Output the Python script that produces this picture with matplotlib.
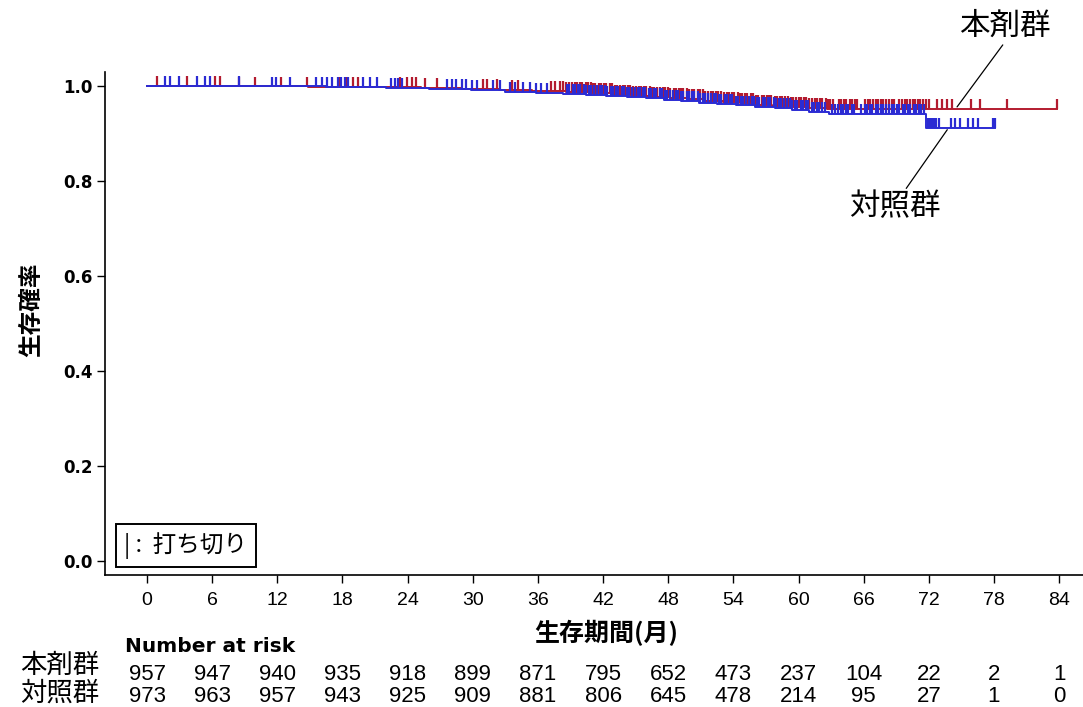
import matplotlib
matplotlib.use('Agg')
import matplotlib.pyplot as plt
import matplotlib.transforms as mtransforms
import numpy as np

plt.rcParams['font.family'] = ['DejaVu Sans', 'Noto Sans CJK JP']
plt.rcParams['axes.unicode_minus'] = False
JP = ['Noto Sans CJK JP', 'DejaVu Sans']
NUM = ['Liberation Sans', 'DejaVu Sans']

# 群名
groups = ['本剤群', '対照群']
colors = ['#b31b2f', '#2b2bd3']

# 生存曲線（イベント時点と生存率）
red_t = [0, 7.0, 14.8, 20.5, 25.2, 29.0, 32.4, 35.5, 38.6, 41.0, 43.0, 44.8, 46.5,
         48.2, 49.8, 51.4, 53.0, 54.6, 56.1, 57.6, 59.3, 61.0, 62.6]
red_s = [1.000, 0.999, 0.998, 0.997, 0.995, 0.993, 0.991, 0.989, 0.987, 0.985, 0.982,
         0.980, 0.977, 0.975, 0.972, 0.969, 0.967, 0.964, 0.961, 0.958, 0.956, 0.954, 0.952]
red_end = 83.8

blue_t = [0, 9.0, 16.5, 22.0, 26.0, 29.8, 33.0, 35.8, 38.3, 40.4, 42.3, 44.2, 46.0,
          47.6, 49.2, 50.8, 52.5, 54.2, 56.0, 57.8, 59.4, 61.0, 62.8, 71.7]
blue_s = [1.000, 0.999, 0.997, 0.995, 0.993, 0.991, 0.988, 0.986, 0.984, 0.982, 0.980,
          0.977, 0.974, 0.971, 0.968, 0.965, 0.962, 0.959, 0.956, 0.953, 0.950, 0.946,
          0.941, 0.912]
blue_end = 78.1

# 打ち切り時点
red_cens = [0.9, 3.7, 6.3, 6.7, 8.5, 9.9, 12.3, 14.7, 17.8, 18.3, 19.0, 19.4, 23.3,
            23.9, 24.4, 24.8, 25.6, 26.7, 30.9, 31.3, 32.2, 33.6, 34.2, 37.2, 37.6,
            38.0, 38.3,
            38.6, 38.9, 39.1, 39.4, 39.6, 39.9, 40.1, 40.4, 40.6, 40.9, 41.1, 41.3,
            41.6, 41.8, 42.1, 42.3, 42.6, 42.8, 43.1, 43.3, 43.6, 43.8, 44.0, 44.3,
            44.5, 44.8, 45.0, 45.3, 45.5, 45.8, 46.0, 46.3, 46.5, 46.7, 47.0, 47.2,
            47.5, 47.7, 48.0, 48.2, 48.5, 48.7, 49.0, 49.2, 49.4, 49.7, 49.9, 50.2,
            50.4, 50.7, 50.9, 51.2, 51.4, 51.7, 51.9, 52.1, 52.4, 52.6, 52.9, 53.1,
            53.4, 53.6, 53.9, 54.1, 54.4, 54.6, 54.8, 55.1, 55.3, 55.6, 55.8, 56.1,
            56.3, 56.6, 56.8, 57.1, 57.3, 57.5, 57.8, 58.0, 58.3, 58.5, 58.8, 59.0,
            59.3, 59.5, 59.8, 60.0, 60.2, 60.5, 60.7, 61.0, 61.2, 61.5, 61.7, 62.0,
            62.2, 62.5, 62.7, 62.9, 63.2, 63.7, 63.9, 64.2, 64.4, 64.7, 64.9, 65.2,
            65.4, 66.1, 66.4, 66.6, 66.9, 67.1, 67.3, 67.6, 67.8, 68.1, 68.3, 68.6,
            68.8, 69.3, 69.5, 69.8, 70.0, 70.3, 70.5, 70.7, 71.0, 71.2, 71.5, 71.7,
            72.0, 72.8, 73.2, 73.7, 74.1, 75.9, 76.7, 79.2, 83.8]
blue_cens = [1.7, 2.1, 2.9, 4.6, 5.3, 5.8, 8.5, 11.5, 11.9, 13.2, 15.6, 16.1, 16.6,
             17.0, 17.6, 17.9, 18.2, 18.5, 19.9, 20.5, 21.2, 22.5, 22.8, 23.1, 23.5,
             27.6, 28.1, 28.5, 29.0, 29.4, 29.9, 30.4, 31.9, 32.5, 33.4, 33.9, 34.6,
             35.3, 35.8, 36.3, 36.8,
             38.7, 38.9, 39.2, 39.4, 39.7, 39.9, 40.2, 40.4, 40.7, 40.9, 41.2, 41.4,
             41.7, 41.9, 42.2, 42.4, 42.7, 42.9, 43.2, 43.4, 43.7, 43.9, 44.2, 44.4,
             44.7, 44.9, 45.2, 45.4, 45.7, 45.9, 46.2, 46.4, 46.7, 46.9, 47.2, 47.4,
             47.7, 47.9, 48.2, 48.4, 48.7, 48.9, 49.2, 49.4, 49.7, 49.9, 50.2, 50.4,
             50.7, 50.9, 51.2, 51.4, 51.7, 51.9, 52.2, 52.4, 52.7, 52.9, 53.2, 53.4,
             53.7, 53.9, 54.2, 54.4, 54.7, 54.9, 55.2, 55.4, 55.7, 55.9, 56.2, 56.4,
             56.7, 56.9, 57.2, 57.4, 57.7, 57.9, 58.2, 58.4, 58.7, 58.9, 59.2, 59.4,
             59.7, 59.9, 60.2, 60.4, 60.7, 60.9, 61.2, 61.4, 61.7, 61.9, 62.2, 62.4,
             63.1, 63.4, 63.6, 63.9, 64.1, 64.4, 64.6, 64.9, 65.1, 65.8, 66.1, 66.3,
             66.6, 66.8, 67.1, 67.3, 67.6, 67.8, 68.1, 68.3, 68.6, 68.8, 69.1, 69.3,
             69.6, 69.8, 70.1, 70.3, 70.6, 70.8, 71.1, 71.3, 71.6,
             71.9, 72.1, 72.3, 72.5, 72.7, 72.9, 74.0, 74.4, 74.9, 75.6, 76.1, 76.5,
             77.9, 78.1]

# Number at risk
risk_times = [0, 6, 12, 18, 24, 30, 36, 42, 48, 54, 60, 66, 72, 78, 84]
risk_red = [957, 947, 940, 935, 918, 899, 871, 795, 652, 473, 237, 104, 22, 2, 1]
risk_blue = [973, 963, 957, 943, 925, 909, 881, 806, 645, 478, 214, 95, 27, 1, 0]


def km_step(ax, t, s, t_end, cens, color):
    tt = np.append(t, t_end)
    ss = np.append(s, s[-1])
    ax.step(tt, ss, where='post', color=color, lw=1.4)
    cens = np.asarray(cens)
    idx = np.searchsorted(t, cens, side='right') - 1
    cy = np.asarray(s)[idx]
    ax.vlines(cens, cy, cy + 0.021, color=color, lw=1.6)


fig = plt.figure(figsize=(10.83, 7.07), dpi=100)
ax = fig.add_axes([105 / 1083, 1 - 575 / 707, 1 - 105 / 1083, (575 - 72) / 707])

km_step(ax, red_t, red_s, red_end, red_cens, colors[0])
km_step(ax, blue_t, blue_s, blue_end, blue_cens, colors[1])

ax.set_xlim(-3.87, 86.2)
ax.set_ylim(-0.0295, 1.0295)
ax.spines['top'].set_visible(False)
ax.spines['right'].set_visible(False)
for sp in ['left', 'bottom']:
    ax.spines[sp].set_linewidth(1.2)
ax.set_xticks(risk_times)
ax.set_yticks([0.0, 0.2, 0.4, 0.6, 0.8, 1.0])
ax.set_yticklabels(['0.0', '0.2', '0.4', '0.6', '0.8', '1.0'],
                   fontweight='bold', fontsize=12)
ax.set_xticklabels([str(v) for v in risk_times], family=NUM, fontsize=14)
ax.tick_params(axis='both', direction='out', length=6, width=1.0)
ax.tick_params(axis='x', pad=6)
ax.tick_params(axis='y', pad=3)

# 軸ラベル
fig.text(31 / 1083, 1 - 310 / 707, '生存確率', rotation=90, ha='center', va='center',
         family=JP, fontweight='bold', fontsize=17)
fig.text(606 / 1083, 1 - 633 / 707, '生存期間(月)', ha='center', va='center',
         family=JP, fontweight='bold', fontsize=18)

# 打ち切り凡例
ax.text(-2.1, 0.0326, '| :  打ち切り', family=JP, fontsize=17, va='center', ha='left',
        bbox=dict(boxstyle='square,pad=0.35', fc='white', ec='black', lw=1.4))

# 群ラベル
ax.annotate(groups[0], xy=(74.6, red_s[-1] + 0.004), xytext=(79.0, 1.125),
            textcoords='data', ha='center', va='center', family=JP, fontsize=22,
            annotation_clip=False,
            arrowprops=dict(arrowstyle='-', color='black', lw=0.9, shrinkA=0, shrinkB=0,
                            relpos=(0.5, 0.0)))
ax.annotate(groups[1], xy=(73.7, blue_s[-1] - 0.004), xytext=(68.9, 0.746),
            textcoords='data', ha='center', va='center', family=JP, fontsize=22,
            annotation_clip=False,
            arrowprops=dict(arrowstyle='-', color='black', lw=0.9, shrinkA=0, shrinkB=0,
                            relpos=(0.6, 1.0)))

# Number at risk
trans = mtransforms.blended_transform_factory(ax.transData, fig.transFigure)
fig.text(125 / 1083, 1 - 646 / 707, 'Number at risk', fontweight='bold', fontsize=14.5,
         ha='left', va='center')
label_y = [665, 693]
for row, (name, vals) in enumerate(zip(groups, [risk_red, risk_blue])):
    y = 1 - (675 + row * 22) / 707
    fig.text(20 / 1083, 1 - label_y[row] / 707, name, family=JP, fontsize=19,
             ha='left', va='center')
    for t, v in zip(risk_times, vals):
        ax.text(t, y, str(v), transform=trans, ha='center', va='center',
                family=NUM, fontsize=16, clip_on=False)

fig.savefig('out.png', dpi=100)
